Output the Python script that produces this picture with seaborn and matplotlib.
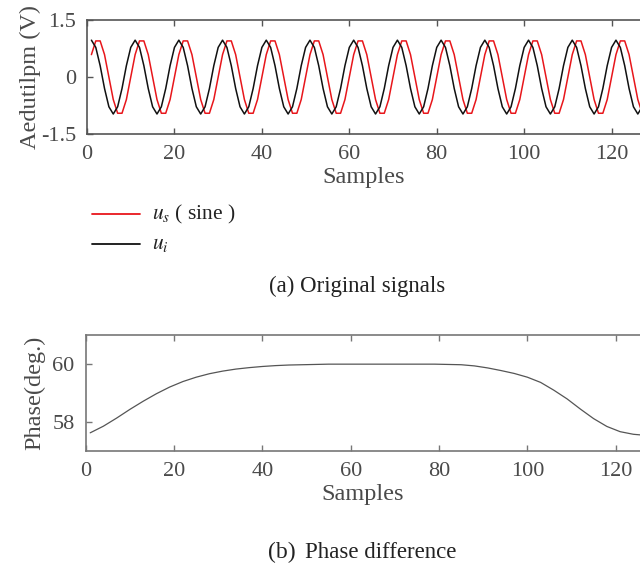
import numpy as np
import pandas as pd
import matplotlib
matplotlib.use("Agg")
import matplotlib.pyplot as plt
import seaborn as sns

# one period (10 samples) of each signal
us_period = [0.59, 0.95, 0.95, 0.59, 0.0, -0.59, -0.95, -0.95, -0.59, 0.0]
ui_period = [0.97, 0.78, 0.30, -0.30, -0.78, -0.97, -0.78, -0.30, 0.30, 0.78]
n_samples = 128

# phase difference curve (deg.), read every 3 samples
phase_x = [1, 4, 7, 10, 13, 16, 19, 22, 25, 28, 31, 34, 37, 40, 43, 46, 49, 52,
           55, 58, 61, 64, 67, 70, 73, 76, 79, 82, 85, 88, 91, 94, 97, 100,
           103, 106, 109, 112, 115, 118, 121, 124, 127]
phase_y = [57.63, 57.86, 58.14, 58.44, 58.72, 58.98, 59.21, 59.40, 59.55, 59.67,
           59.76, 59.83, 59.88, 59.92, 59.95, 59.97, 59.98, 59.99,
           60.0, 60.0, 60.0, 60.0, 60.0, 60.0, 60.0, 60.0, 60.0, 59.99,
           59.98, 59.94, 59.87, 59.78, 59.68, 59.55,
           59.37, 59.10, 58.80, 58.45, 58.12, 57.85, 57.67, 57.58, 57.54]

samples = np.arange(1, n_samples + 1)
reps = int(np.ceil(n_samples / 10))
sig = pd.DataFrame({
    "n": samples,
    "us": np.tile(us_period, reps)[:n_samples],
    "ui": np.tile(ui_period, reps)[:n_samples],
})
ph = pd.DataFrame({"n": phase_x, "phase": phase_y})

sns.set_style("ticks")
plt.rcParams["font.family"] = ["Liberation Serif", "DejaVu Serif"]
plt.rcParams["mathtext.fontset"] = "stix"
text_col = "#4a4a4a"
spine_col = "#555555"

fig = plt.figure(figsize=(6.4, 5.71), dpi=100)

def style_axes(ax, col):
    for s in ["top", "bottom", "left"]:
        ax.spines[s].set_color(col)
        ax.spines[s].set_linewidth(1.2)
    ax.spines["right"].set_visible(False)
    ax.tick_params(direction="in", top=True, length=4, width=1.0, color=col,
                   labelsize=16, labelcolor=text_col, pad=8)
    ax.set_xticks([0, 20, 40, 60, 80, 100, 120])

# (a) original signals
ax1 = fig.add_axes([0.136, 0.765, 0.864, 0.2])
sns.lineplot(data=sig, x="n", y="us", color="#e8161b", lw=1.1, ax=ax1)
sns.lineplot(data=sig, x="n", y="ui", color="#111111", lw=1.1, ax=ax1)
ax1.set_xlim(0, 126.5)
ax1.set_ylim(-1.5, 1.5)
ax1.set_yticks([-1.5, 0, 1.5])
ax1.set_yticklabels(["-1.5", "0", "1.5"])
style_axes(ax1, spine_col)
ax1.set_xlabel("Samples", fontsize=17.5, color=text_col, labelpad=2)
ax1.set_ylabel("Aedutilpm (V)", fontsize=17.5, color=text_col, labelpad=0)

# legend drawn below the axes
fig.add_artist(plt.Line2D([92 / 640, 140 / 640], [1 - 214 / 571] * 2,
                          color="#e8161b", lw=1.3))
fig.add_artist(plt.Line2D([92 / 640, 140 / 640], [1 - 244 / 571] * 2,
                          color="#111111", lw=1.3))
fig.text(152 / 640, 1 - 214 / 571, r"$u_s$ ( sine )", fontsize=15.5,
         color="#222222", va="center")
fig.text(152 / 640, 1 - 244 / 571, r"$u_i$", fontsize=15.5,
         color="#222222", va="center")
fig.text(357 / 640, 1 - 286 / 571, "(a) Original signals", fontsize=16.5,
         color="#222222", ha="center", va="center")

# (b) phase difference
ax2 = fig.add_axes([0.134, 0.210, 0.866, 0.203])
sns.lineplot(data=ph, x="n", y="phase", color="#555555", lw=0.9, ax=ax2)
ax2.set_xlim(0, 125.5)
ax2.set_ylim(57, 61)
ax2.set_yticks([58, 60])
style_axes(ax2, "#777777")
ax2.set_xlabel("Samples", fontsize=17.5, color=text_col, labelpad=2)
ax2.set_ylabel("Phase(deg.)", fontsize=17.5, color=text_col, labelpad=5)

fig.text(282 / 640, 1 - 552 / 571, "(b)", fontsize=17, color="#222222",
         ha="center", va="center")
fig.text(381 / 640, 1 - 552 / 571, "Phase difference", fontsize=16.5,
         color="#222222", ha="center", va="center")

fig.savefig("out.png", dpi=100)
